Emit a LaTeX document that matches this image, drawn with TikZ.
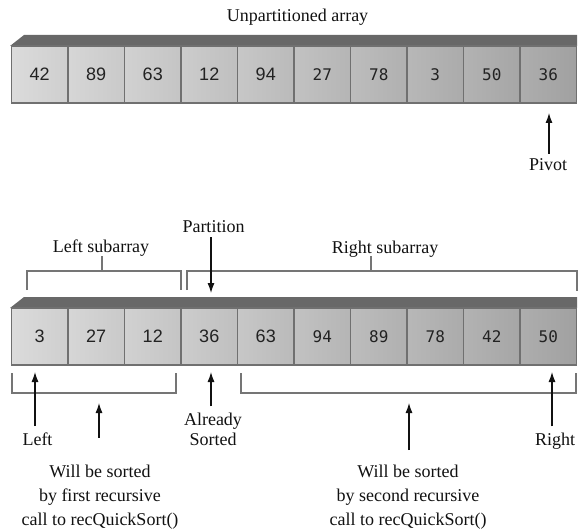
\documentclass[tikz,border=0pt]{standalone}
\usepackage{fontspec}
\setmainfont{Liberation Serif}
\newfontfamily\numsans{Liberation Sans}
\newfontfamily\nummono{DejaVu Sans Mono}
\usepackage{xcolor}
\usepackage{tikz}
\usetikzlibrary{arrows.meta, positioning, calc}
\definecolor{ink}{HTML}{111111}
\definecolor{digit}{HTML}{222222}
\definecolor{barcolor}{HTML}{686868}
\definecolor{cellline}{HTML}{707070}
\definecolor{bracketgray}{HTML}{757575}
\tikzset{
  cellbox/.style ={draw=cellline, line width=1.5pt, minimum width=56.5pt,
                   minimum height=57pt, inner sep=0pt, text=digit},
  txt/.style     ={font=\fontsize{18}{24}\selectfont, text=ink, align=center,
                   inner sep=2pt},
  bracket/.style ={draw=bracketgray, line width=2pt},
  flow/.style    ={-{Latex[length=10pt,width=7pt]}, line width=1.1pt, draw=ink}
}
% numbers: first half sans, second half mono
\newcommand{\cellnum}[2]{\ifnum#1<6 {\numsans\fontsize{18}{20}\selectfont #2}%
  \else {\nummono\fontsize{16}{20}\selectfont #2}\fi}

\begin{document}
\begin{tikzpicture}[x=1pt, y=-1pt]
  \useasboundingbox (0,0) rectangle (580,529);

  % Unpartitioned array
  \node[txt, anchor=base] (unpart) at (297.5,22) {Unpartitioned array};
  \fill[barcolor] (10,46) -- (24,35) -- (577,35) -- (577,46) -- cycle;
  \foreach \v [count=\i] in {42,89,63,12,94,27,78,3,50,36} {
    \pgfmathtruncatemacro\shl{12+2*\i}
    \pgfmathtruncatemacro\shr{17+2*\i}
    \node[cellbox, left color=black!\shl, right color=black!\shr] (top\i)
      at ({11.5+56.5*(\i-0.5)},74.5) {\cellnum{\i}{\v}};
  }
  \node[txt, anchor=base] (pivot) at (548,171) {Pivot};
  \coordinate (pivotTip) at (549,113);
  \draw[flow, shorten <=3pt] (pivot.north -| pivotTip) -- (pivotTip);

  % Partitioned array
  \fill[barcolor] (10,308) -- (24,297) -- (577,297) -- (577,308) -- cycle;
  \foreach \v [count=\i] in {3,27,12,36,63,94,89,78,42,50} {
    \pgfmathtruncatemacro\shl{12+2*\i}
    \pgfmathtruncatemacro\shr{17+2*\i}
    \node[cellbox, left color=black!\shl, right color=black!\shr] (bot\i)
      at ({11.5+56.5*(\i-0.5)},336.5) {\cellnum{\i}{\v}};
  }

  % Subarrays above
  \node[txt, anchor=base] (leftsub)  at (101,252) {Left subarray};
  \node[txt, anchor=base] (rightsub) at (385,253) {Right subarray};
  \node[txt, anchor=base] (partition) at (213.5,233) {Partition};
  \draw[bracket] (27,290) |- (181,271) -- (181,290);
  \draw[bracket] (102,256) -- (102,271);
  \draw[bracket] (187,290) |- (577,271) -- (577,291);
  \draw[bracket] (371,256) -- (371,271);
  \coordinate (partTip) at (211,293);
  \draw[flow, shorten <=2pt] (partition.south -| partTip) -- (partTip);

  % Brackets below
  \draw[bracket] (12,373) |- (176,393) -- (176,373);
  \draw[bracket] (241,373) |- (576,393) -- (576,373);

  % Labels below
  \node[txt, anchor=base] (lefttxt)    at (37.5,445) {Left};
  \node[txt, anchor=base] (alreadytxt) at (213,445) {Already\\[-4pt]Sorted};
  \node[txt, anchor=base] (righttxt)   at (555,445) {Right};
  \node[txt, anchor=north, inner sep=0pt] (sortfirst)  at (100,464.5)
    {Will be sorted\\by first recursive\\call to recQuickSort()};
  \node[txt, anchor=north, inner sep=0pt] (sortsecond) at (408,465)
    {Will be sorted\\by second recursive\\call to recQuickSort()};

  \coordinate (leftTip)    at (35,372);
  \coordinate (alreadyTip) at (211,372);
  \coordinate (rightTip)   at (552,372);
  \coordinate (firstTip)   at (99,403);
  \coordinate (secondTip)  at (409,403);
  \draw[flow, shorten <=4pt]  (lefttxt.north -| leftTip) -- (leftTip);
  \draw[flow, shorten <=4pt]  (alreadytxt.north -| alreadyTip) -- (alreadyTip);
  \draw[flow, shorten <=4pt]  (righttxt.north -| rightTip) -- (rightTip);
  \draw[flow, shorten <=27pt] (sortfirst.north -| firstTip) -- (firstTip);
  \draw[flow, shorten <=15pt] (sortsecond.north -| secondTip) -- (secondTip);
\end{tikzpicture}
\end{document}
